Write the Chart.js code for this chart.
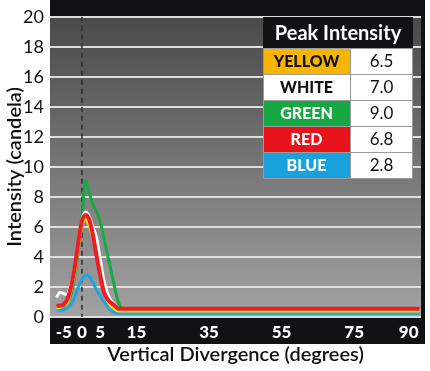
<!DOCTYPE html>
<html>
<head>
<meta charset="utf-8">
<script src="https://cdn.jsdelivr.net/npm/chart.js@4.4.0/dist/chart.umd.min.js"></script>
<style>
  html, body { margin: 0; padding: 0; background: #fff; }
  canvas { display: block; }
</style>
</head>
<body>
<canvas id="chart" width="430" height="371"></canvas>
<script>
// degrees sampled along the curves
const degrees = [-7, -6, -5, -4, -3, -2, -1, 0, 1, 2, 3, 4, 5, 6, 7, 8, 9, 10, 11, 12, 93];

const yellowVals = [0.6, 0.65, 0.8, 1.0, 1.8, 3.0, 4.7, 6.1, 6.5, 6.1, 5.3, 4.3, 3.0, 1.8, 1.1, 0.75, 0.55, 0.4, 0.4, 0.4, 0.4];
const whiteVals  = [1.3, 1.65, 1.55, 1.5, 2.2, 3.3, 5.0, 6.5, 7.0, 6.7, 6.0, 5.3, 3.9, 2.5, 1.6, 1.1, 0.8, 0.55, 0.45, 0.45, 0.45];
const greenVals  = [0.7, 0.7, 0.75, 1.0, 1.5, 2.7, 4.5, 6.6, 9.1, 8.3, 7.5, 7.0, 6.4, 5.3, 4.2, 3.1, 2.0, 1.0, 0.55, 0.4, 0.4];
const redVals    = [0.75, 0.75, 0.85, 1.2, 2.0, 3.3, 5.0, 6.4, 6.8, 6.5, 5.5, 4.1, 2.8, 1.7, 1.2, 0.95, 0.75, 0.55, 0.55, 0.55, 0.55];
const blueVals   = [0.5, 0.45, 0.5, 0.6, 0.85, 1.3, 2.0, 2.5, 2.8, 2.7, 2.3, 1.8, 1.4, 1.05, 0.7, 0.45, 0.3, 0.25, 0.25, 0.25, 0.25];

const xTicks = [-5, 0, 5, 15, 35, 55, 75, 90];

// peak intensity table
const tableLabels = ["YELLOW", "WHITE", "GREEN", "RED", "BLUE"];
const peakValues = ["6.5", "7.0", "9.0", "6.8", "2.8"];
const tableColors = ["#f7b500", "#ffffff", "#16a843", "#e8131b", "#1aa2dc"];
const tableTextColors = ["#111", "#111", "#fff", "#fff", "#fff"];

const FONT = "Lato, 'DejaVu Sans', sans-serif";

function pts(vals) {
    return degrees.map((d, i) => ({ x: d, y: vals[i] }));
}

const backdrop = {
    id: "backdrop",
    beforeDraw(chart) {
        const { ctx, chartArea: a } = chart;
        ctx.save();
        // dark frame: top strip, right edge, x axis band
        ctx.fillStyle = "#111214";
        ctx.fillRect(a.left, 0, a.right - a.left + 4, a.top);
        ctx.fillRect(a.right, 0, 4, a.bottom + 27);
        ctx.fillRect(a.left, a.bottom + 1, a.right - a.left + 4, 26);
        // gray gradient plot background
        const g = ctx.createLinearGradient(0, a.top, 0, a.bottom);
        g.addColorStop(0, "#4a4a4a");
        g.addColorStop(1, "#a2a2a2");
        ctx.fillStyle = g;
        ctx.fillRect(a.left, a.top, a.right - a.left, a.bottom - a.top + 1);
        ctx.restore();
    },
    beforeDatasetsDraw(chart) {
        const { ctx, chartArea: a, scales } = chart;
        const x0 = scales.x.getPixelForValue(0);
        ctx.save();
        ctx.strokeStyle = "#2a2a2a";
        ctx.lineWidth = 1.5;
        ctx.setLineDash([5, 4]);
        ctx.beginPath();
        ctx.moveTo(x0, a.top);
        ctx.lineTo(x0, a.bottom);
        ctx.stroke();
        ctx.restore();
    },
    afterDraw(chart) {
        const { ctx } = chart;
        // table
        const left = 263, right = 413, split = 350, top = 17, headH = 31, rowH = 26;
        ctx.save();
        ctx.fillStyle = "#111214";
        ctx.fillRect(left, top, right - left, headH);
        ctx.fillStyle = "#fff";
        ctx.font = "bold 20px " + FONT;
        ctx.textAlign = "center";
        ctx.textBaseline = "middle";
        ctx.fillText("Peak Intensity", (left + right) / 2, top + headH / 2 + 1);
        tableLabels.forEach((lab, i) => {
            const y = top + headH + i * rowH;
            ctx.fillStyle = tableColors[i];
            ctx.fillRect(left, y, split - left, rowH);
            ctx.fillStyle = "#fff";
            ctx.fillRect(split, y, right - split, rowH);
            ctx.strokeStyle = "#9a9a9a";
            ctx.lineWidth = 1;
            ctx.strokeRect(left + 0.5, y + 0.5, split - left, rowH);
            ctx.strokeRect(split + 0.5, y + 0.5, right - split - 1, rowH);
            ctx.fillStyle = tableTextColors[i];
            ctx.font = "900 16px " + FONT;
            ctx.fillText(lab, (left + split) / 2, y + rowH / 2 + 1);
            ctx.fillStyle = "#111";
            ctx.font = "17px " + FONT;
            ctx.fillText(peakValues[i], (split + right) / 2, y + rowH / 2 + 1);
        });
        ctx.restore();
    }
};

function line(label, vals, color, width, order) {
    return {
        label: label,
        data: pts(vals),
        borderColor: color,
        borderWidth: width,
        pointRadius: 0,
        cubicInterpolationMode: "monotone",
        fill: false,
        order: order
    };
}

new Chart(document.getElementById("chart"), {
    type: "line",
    data: {
        datasets: [
            line("Yellow", yellowVals, "#ffe400", 3, 1),
            line("White", whiteVals, "#ffffff", 3, 2),
            line("Green", greenVals, "#1aa845", 3, 4),
            line("Red", redVals, "#ee1c24", 4, 0),
            line("Blue", blueVals, "#1ba6e2", 3, 3)
        ]
    },
    options: {
        responsive: false,
        animation: false,
        devicePixelRatio: 1,
        layout: { padding: { top: 9, right: 9, left: 0, bottom: 0 } },
        plugins: { legend: { display: false }, tooltip: { enabled: false } },
        scales: {
            x: {
                type: "linear",
                min: -8.8,
                max: 93.4,
                afterBuildTicks: scale => { scale.ticks = xTicks.map(v => ({ value: v })); },
                afterFit: scale => { scale.height = 54; },
                grid: { display: false, drawTicks: false },
                border: { display: false },
                ticks: {
                    autoSkip: false,
                    maxRotation: 0,
                    padding: 5,
                    color: "#ffffff",
                    font: { family: FONT, size: 17, weight: "900" }
                },
                title: {
                    display: true,
                    text: "Vertical Divergence (degrees)",
                    color: "#111",
                    font: { family: FONT, size: 20, weight: "600" },
                    padding: { top: 0, bottom: 4 }
                }
            },
            y: {
                min: 0,
                max: 20,
                afterFit: scale => { scale.width = 50; },
                grid: { color: "#dedede", lineWidth: 2, drawTicks: false },
                border: { display: false },
                ticks: {
                    stepSize: 1,
                    padding: 6,
                    color: "#111",
                    font: { family: FONT, size: 18 },
                    callback: v => (v % 2 === 0 ? v : "")
                },
                title: {
                    display: true,
                    text: "Intensity (candela)",
                    color: "#111",
                    font: { family: FONT, size: 20, weight: "600" },
                    padding: { top: 3, bottom: 0 }
                }
            }
        }
    },
    plugins: [backdrop]
});
</script>
</body>
</html>
